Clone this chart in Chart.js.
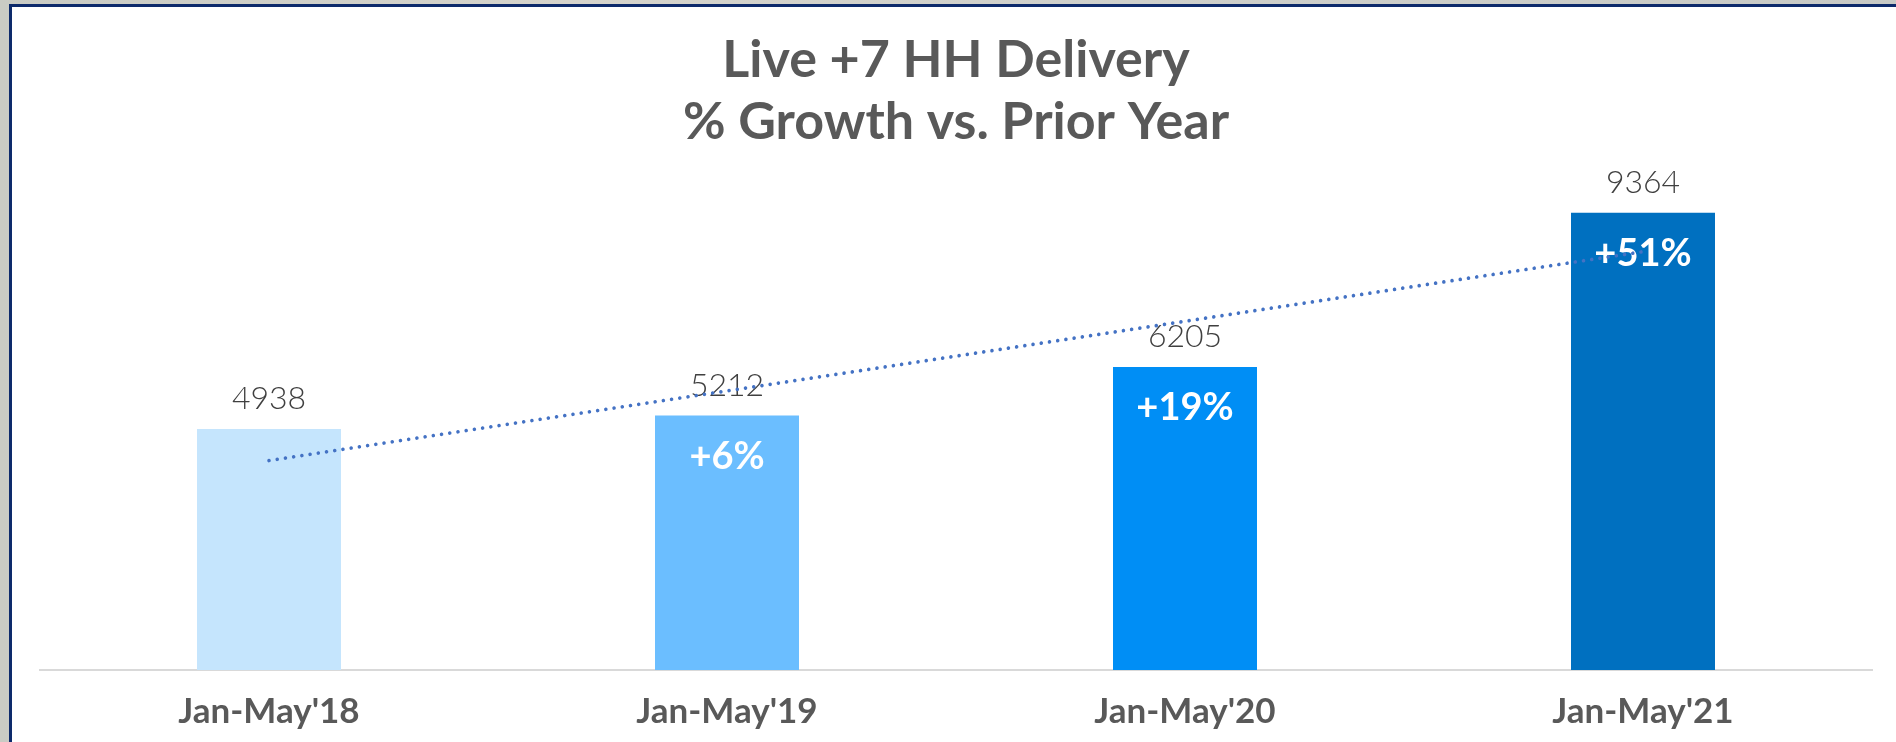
<!DOCTYPE html>
<html>
<head>
<meta charset="utf-8">
<script src="https://cdn.jsdelivr.net/npm/chart.js@4.4.1/dist/chart.umd.min.js"></script>
<style>
  html, body { margin: 0; padding: 0; width: 1896px; height: 742px; overflow: hidden; }
  body { background: linear-gradient(90deg, #c9cbc4 0%, #d6d4cc 30%, #cfd0cb 60%, #c8cac6 100%); position: relative; }
  #panel { position: absolute; left: 9px; top: 4px; right: 0; bottom: 0; background: #ffffff;
           border-top: 3px solid #0d2a6b; border-left: 3px solid #0d2a6b; }
  #c { position: absolute; left: 0; top: 0; }
</style>
</head>
<body>
<div id="panel"></div>
<canvas id="c" width="1896" height="742"></canvas>
<script>
const categories = ["Jan-May'18", "Jan-May'19", "Jan-May'20", "Jan-May'21"];
const deliveryValues = [4938, 5212, 6205, 9364];
const growthLabels = ["", "+6%", "+19%", "+51%"];
const barColors = ["#c5e5fd", "#6bbeff", "#008ef5", "#0070c0"];
const trendValues = [4290, null, null, 8570];
const titleLines = ["Live +7 HH Delivery", "% Growth vs. Prior Year"];

const labelPlugin = {
  id: 'barLabels',
  afterDatasetDraw(chart, args) {
    if (args.index !== 0) return;
    const ctx = chart.ctx;
    const meta = chart.getDatasetMeta(0);
    ctx.save();
    ctx.textAlign = 'center';
    ctx.textBaseline = 'middle';
    meta.data.forEach((bar, i) => {
      ctx.fillStyle = '#404040';
      ctx.font = '300 32px Lato';
      ctx.fillText(String(deliveryValues[i]), bar.x, bar.y - 30);
      if (growthLabels[i]) {
        ctx.fillStyle = '#ffffff';
        ctx.font = 'bold 38px Lato';
        ctx.fillText(growthLabels[i], bar.x, bar.y + 41);
      }
    });
    ctx.restore();
  }
};

new Chart(document.getElementById('c'), {
  data: {
    labels: categories,
    datasets: [
      {
        type: 'bar',
        data: deliveryValues,
        backgroundColor: barColors,
        borderWidth: 0,
        categoryPercentage: 1,
        barPercentage: 0.3144,
        order: 1
      },
      {
        type: 'line',
        data: trendValues,
        spanGaps: true,
        borderColor: '#4472c4',
        borderWidth: 3.6,
        borderDash: [0.01, 8.3],
        borderCapStyle: 'round',
        pointRadius: 0,
        fill: false,
        tension: 0,
        order: 0
      }
    ]
  },
  options: {
    responsive: false,
    animation: false,
    devicePixelRatio: 1,
    layout: { padding: { left: 40, right: 24, top: 0, bottom: 0 } },
    plugins: {
      legend: { display: false },
      tooltip: { enabled: false },
      title: {
        display: true,
        text: titleLines,
        color: '#595959',
        font: { family: 'Lato', size: 52, weight: 'bold', lineHeight: 1.2 },
        padding: { top: 29, bottom: 28 }
      }
    },
    scales: {
      x: {
        grid: { display: false, drawTicks: false },
        border: { display: true, color: '#d9d9d9', width: 2 },
        ticks: { color: '#595959', font: { family: 'Lato', size: 35, weight: 'bold' }, padding: 21 },
        afterFit(scale) { scale.height = 72; }
      },
      y: {
        display: false,
        min: 0,
        max: 10000
      }
    }
  },
  plugins: [labelPlugin]
});
</script>
</body>
</html>
